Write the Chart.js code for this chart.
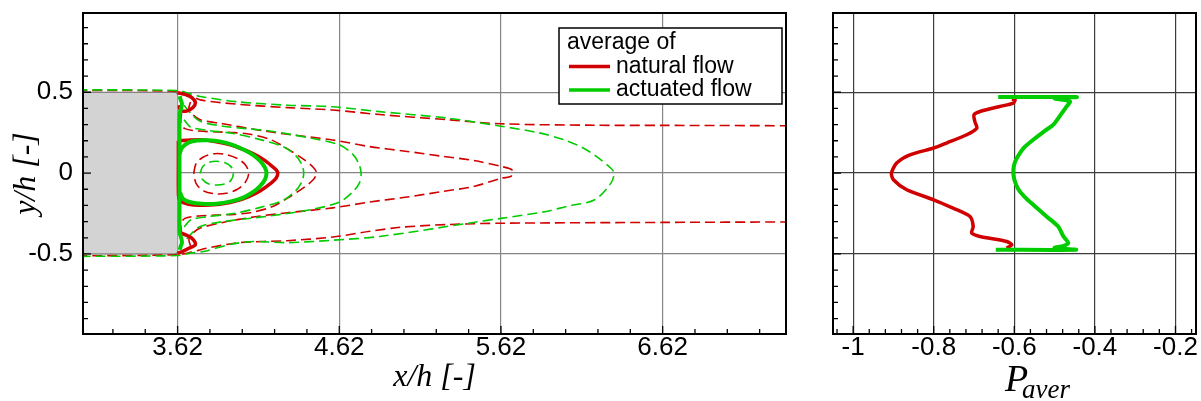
<!DOCTYPE html>
<html lang="en">
<head>
<meta charset="UTF-8">
<title>Average of natural and actuated flow</title>
<script src="https://cdn.jsdelivr.net/npm/chart.js"></script>
<style>
  body { margin: 0; background: #fff; }
  .panel { position: absolute; top: 0; }
  #left { left: 0; width: 800px; height: 401px; }
  #right { left: 800px; width: 401px; height: 401px; }
</style>
</head>
<body>
<div class="panel" id="left"><canvas id="flowChart" width="800" height="401"></canvas></div>
<div class="panel" id="right"><canvas id="pressureChart" width="401" height="401"></canvas></div>
<script>
"use strict";

// legend / labels
const legendTitle = 'average of';
const seriesLabels = ['natural flow', 'actuated flow'];

// tick values
const flowXTicks = [3.62, 4.62, 5.62, 6.62];
const flowXMinor = [3.22, 3.42, 3.82, 4.02, 4.22, 4.42, 4.82, 5.02, 5.22, 5.42, 5.82, 6.02, 6.22, 6.42, 6.82, 7.02, 7.22];
const yTicks = [-0.5, 0, 0.5];
const yMinor = [-0.9, -0.8, -0.7, -0.6, -0.4, -0.3, -0.2, -0.1, 0.1, 0.2, 0.3, 0.4, 0.6, 0.7, 0.8, 0.9];
const pXTicks = [-1, -0.8, -0.6, -0.4, -0.2];
const pXMinor = [-1.04, -0.96, -0.92, -0.88, -0.84, -0.76, -0.72, -0.68, -0.64, -0.56, -0.52, -0.48, -0.44, -0.36, -0.32, -0.28, -0.24, -0.16];

// bluff body (grey block)
const bodyTop = [[3.0, 0.5], [3.6, 0.5], [3.613, 0.497], [3.62, 0.485]];
const bodyBottom = [[3.0, -0.5], [3.6, -0.5], [3.613, -0.497], [3.62, -0.485]];

// natural flow streamlines (x/h, y/h)
const natBubble = [[3.625, 0.2], [3.7, 0.205], [3.76, 0.206], [3.85, 0.196], [3.946, 0.175], [4.03, 0.145], [4.089, 0.119], [4.15, 0.085], [4.194, 0.051], [4.23, 0.02], [4.24, 0], [4.23, -0.03], [4.2, -0.06], [4.13, -0.11], [4.06, -0.145], [3.99, -0.17], [3.9, -0.19], [3.82, -0.197], [3.72, -0.198], [3.66, -0.185], [3.63, -0.16], [3.625, -0.1], [3.625, 0.1], [3.625, 0.2]];
const natCornerTop = [[3.62, 0.497], [3.67, 0.485], [3.71, 0.465], [3.73, 0.435], [3.715, 0.405], [3.68, 0.385], [3.65, 0.383], [3.635, 0.395], [3.63, 0.42]];
const natCornerBottom = [[3.635, -0.37], [3.67, -0.382], [3.71, -0.405], [3.73, -0.443], [3.69, -0.465], [3.655, -0.482], [3.62, -0.497]];
const natCore = [[3.72, 0], [3.735, 0.06], [3.78, 0.1], [3.85, 0.12], [3.92, 0.115], [3.99, 0.09], [4.04, 0.05], [4.06, 0], [4.04, -0.055], [3.99, -0.1], [3.92, -0.125], [3.85, -0.128], [3.78, -0.11], [3.735, -0.065], [3.72, 0]];
const natLoopA = [[3.645, 0.37], [3.64, 0.31], [3.665, 0.275], [3.75, 0.26], [3.86, 0.255], [3.97, 0.25], [4.07, 0.24], [4.2, 0.205], [4.3, 0.15], [4.4, 0.085], [4.46, 0.035], [4.48, 0], [4.46, -0.04], [4.4, -0.09], [4.3, -0.155], [4.2, -0.21], [4.07, -0.245], [3.97, -0.255], [3.86, -0.26], [3.75, -0.265], [3.665, -0.28], [3.64, -0.315], [3.645, -0.37]];
const natLoopB = [[3.7, 0.44], [3.69, 0.4], [3.71, 0.365], [3.76, 0.33], [3.9, 0.305], [4.1, 0.27], [4.3, 0.24], [4.58, 0.205], [4.8, 0.165], [5.04, 0.134], [5.25, 0.105], [5.45, 0.078], [5.626, 0.04], [5.688, 0.02], [5.682, -0.021], [5.626, -0.031], [5.45, -0.083], [5.25, -0.115], [5.04, -0.148], [4.8, -0.18], [4.58, -0.215], [4.3, -0.245], [4.1, -0.27], [3.9, -0.305], [3.76, -0.34], [3.71, -0.375], [3.69, -0.41], [3.7, -0.45]];
const natOuterTop = [[3.0, 0.512], [3.62, 0.505], [3.7, 0.48], [3.76, 0.453], [4.0, 0.425], [4.3, 0.405], [4.58, 0.39], [4.87, 0.362], [5.29, 0.33], [5.62, 0.305], [6.2, 0.296], [6.62, 0.295], [7.4, 0.293]];
const natOuterBottom = [[3.0, -0.512], [3.62, -0.505], [3.7, -0.49], [3.8, -0.465], [4.0, -0.43], [4.3, -0.418], [4.58, -0.395], [4.81, -0.36], [5.0, -0.335], [5.29, -0.318], [5.62, -0.31], [6.62, -0.305], [7.4, -0.302]];

// actuated flow streamlines (x/h, y/h)
const actBubble = [[3.632, 0.12], [3.65, 0.16], [3.69, 0.19], [3.74, 0.202], [3.81, 0.203], [3.88, 0.196], [3.96, 0.175], [4.03, 0.144], [4.09, 0.11], [4.13, 0.075], [4.16, 0.035], [4.17, 0], [4.16, -0.04], [4.13, -0.08], [4.09, -0.115], [4.03, -0.15], [3.95, -0.175], [3.86, -0.19], [3.77, -0.19], [3.7, -0.18], [3.655, -0.16], [3.635, -0.12]];
const actWall = [[3.633, 0.475], [3.64, 0.45], [3.647, 0.43], [3.642, 0.4], [3.633, 0.37], [3.632, 0.2], [3.632, -0.2], [3.633, -0.37], [3.642, -0.4], [3.647, -0.43], [3.64, -0.45], [3.633, -0.475]];
const actCore = [[3.76, 0], [3.775, 0.04], [3.81, 0.065], [3.86, 0.073], [3.91, 0.065], [3.95, 0.04], [3.965, 0], [3.95, -0.045], [3.91, -0.068], [3.86, -0.074], [3.81, -0.066], [3.775, -0.04], [3.76, 0]];
const actLoopA = [[3.66, 0.33], [3.7, 0.285], [3.8, 0.265], [3.965, 0.245], [4.12, 0.21], [4.27, 0.165], [4.35, 0.11], [4.39, 0.05], [4.4, 0], [4.39, -0.05], [4.35, -0.11], [4.27, -0.17], [4.12, -0.215], [3.965, -0.25], [3.8, -0.27], [3.7, -0.29], [3.66, -0.335]];
const actLoopB = [[3.66, 0.42], [3.7, 0.37], [3.76, 0.32], [3.9, 0.29], [4.19, 0.26], [4.45, 0.215], [4.62, 0.175], [4.7, 0.12], [4.74, 0.06], [4.755, 0], [4.745, -0.06], [4.7, -0.12], [4.62, -0.18], [4.45, -0.225], [4.19, -0.265], [3.9, -0.3], [3.76, -0.33], [3.7, -0.38], [3.66, -0.43]];
const actOuter = [[3.0, 0.515], [3.62, 0.51], [3.7, 0.49], [3.76, 0.474], [4.0, 0.44], [4.3, 0.42], [4.58, 0.41], [4.87, 0.38], [5.29, 0.34], [5.62, 0.29], [5.85, 0.25], [6.01, 0.206], [6.12, 0.16], [6.21, 0.103], [6.3, 0.03], [6.32, 0], [6.3, -0.062], [6.2, -0.165], [6.03, -0.205], [5.9, -0.237], [5.62, -0.28], [5.45, -0.305], [4.87, -0.392], [4.58, -0.415], [4.3, -0.43], [4.09, -0.423], [3.95, -0.44], [3.78, -0.485], [3.7, -0.495], [3.62, -0.51], [3.0, -0.515]];

// right panel: P_aver against y/h
const natPressure = [[-0.619, -0.464], [-0.606, -0.443], [-0.619, -0.423], [-0.685, -0.392], [-0.706, -0.371], [-0.702, -0.33], [-0.71, -0.268], [-0.752, -0.217], [-0.8, -0.165], [-0.867, -0.103], [-0.9, -0.041], [-0.905, 0], [-0.892, 0.062], [-0.859, 0.113], [-0.8, 0.155], [-0.768, 0.186], [-0.718, 0.237], [-0.693, 0.278], [-0.698, 0.319], [-0.7, 0.361], [-0.685, 0.381], [-0.636, 0.412], [-0.6025, 0.433], [-0.598, 0.453], [-0.606, 0.458]];
const actPressure = [[-0.64, 0.47], [-0.445, 0.47], [-0.5, 0.462], [-0.462, 0.443], [-0.47, 0.412], [-0.482, 0.371], [-0.503, 0.3], [-0.525, 0.26], [-0.553, 0.206], [-0.575, 0.16], [-0.586, 0.124], [-0.598, 0.07], [-0.6025, 0.02], [-0.6, -0.04], [-0.59, -0.1], [-0.575, -0.145], [-0.553, -0.196], [-0.52, -0.268], [-0.491, -0.33], [-0.478, -0.392], [-0.466, -0.433], [-0.478, -0.45], [-0.5, -0.462], [-0.447, -0.474], [-0.646, -0.474]];

const RED = '#d10000';
const GREEN = '#00cc00';
const seriesColors = [RED, GREEN];

const pts = arr => arr.map(([x, y]) => ({ x, y }));

function streamline(data, color, dashed, order) {
    return {
        data: pts(data),
        showLine: true,
        borderColor: color,
        borderWidth: dashed ? 1.6 : (color === GREEN ? 4 : 3.5),
        borderDash: dashed ? [10, 5] : [],
        pointRadius: 0,
        tension: 0.3,
        fill: false,
        order
    };
}

// minor ticks (inside) and the frame round the plot area
const frameTicks = {
    id: 'frameTicks',
    afterDatasetsDraw(chart, args, o) {
        const { ctx, chartArea: a, scales: { x, y } } = chart;
        ctx.save();
        ctx.strokeStyle = '#000';
        ctx.lineWidth = 1.3;
        ctx.beginPath();
        o.xMinor.forEach(v => { const p = x.getPixelForValue(v); ctx.moveTo(p, a.bottom); ctx.lineTo(p, a.bottom - o.minorLen); });
        o.xMajor.forEach(v => { const p = x.getPixelForValue(v); ctx.moveTo(p, a.bottom); ctx.lineTo(p, a.bottom - o.majorLen); });
        o.yMinor.forEach(v => { const p = y.getPixelForValue(v); ctx.moveTo(a.left, p); ctx.lineTo(a.left + o.minorLen, p); });
        o.yMajor.forEach(v => { const p = y.getPixelForValue(v); ctx.moveTo(a.left, p); ctx.lineTo(a.left + o.majorLen, p); });
        ctx.stroke();
        ctx.lineWidth = 2;
        ctx.strokeRect(a.left, a.top, a.right - a.left, a.bottom - a.top);
        ctx.restore();
    }
};

// boxed legend with a heading line
const boxLegend = {
    id: 'boxLegend',
    afterDraw(chart, args, o) {
        if (!o.show) return;
        const { ctx } = chart;
        ctx.save();
        ctx.fillStyle = '#fff';
        ctx.fillRect(o.left, o.top, o.width, o.height);
        ctx.strokeStyle = '#000';
        ctx.lineWidth = 1.5;
        ctx.strokeRect(o.left, o.top, o.width, o.height);
        ctx.font = '23px "Liberation Sans", Arial, sans-serif';
        ctx.fillStyle = '#000';
        ctx.textBaseline = 'middle';
        ctx.fillText(legendTitle, o.left + 8, o.top + 15);
        seriesLabels.forEach((label, i) => {
            const yy = o.top + 15 + (i + 1) * 23.5;
            ctx.strokeStyle = seriesColors[i];
            ctx.lineWidth = 3.5;
            ctx.beginPath();
            ctx.moveTo(o.left + 10, yy);
            ctx.lineTo(o.left + 51, yy);
            ctx.stroke();
            ctx.fillText(label, o.left + 57, yy);
        });
        ctx.restore();
    }
};

// "P" with subscript "aver" as the x title of the right panel
const subTitle = {
    id: 'subTitle',
    afterDraw(chart, args, o) {
        if (!o.show) return;
        const { ctx } = chart;
        ctx.save();
        ctx.fillStyle = '#000';
        ctx.textBaseline = 'alphabetic';
        ctx.font = 'italic 38px "Liberation Serif", "Times New Roman", serif';
        ctx.fillText(o.main, o.x, o.y);
        ctx.font = 'italic 27px "Liberation Serif", "Times New Roman", serif';
        ctx.fillText(o.sub, o.x + 17, o.y + 7);
        ctx.restore();
    }
};

Chart.register(frameTicks, boxLegend, subTitle);

const tickFont = { family: '"Liberation Sans", Arial, sans-serif', size: 26, lineHeight: 1.05 };
const titleFont = { family: '"Liberation Serif", "Times New Roman", serif', size: 32, style: 'italic' };

// keep label overflow from shrinking the plot area
const noEdgePadding = s => { s.paddingTop = 0; s.paddingBottom = 0; s.paddingLeft = 0; s.paddingRight = 0; };

const flowDatasets = [
    { data: pts(bodyTop), showLine: true, borderColor: '#6a6a6a', borderWidth: 1, backgroundColor: '#d3d3d3', fill: '+1', pointRadius: 0, order: 100 },
    { data: pts(bodyBottom), showLine: true, borderColor: '#6a6a6a', borderWidth: 1, fill: false, pointRadius: 0, order: 99 },
    streamline(natOuterTop, RED, true, 50),
    streamline(natOuterBottom, RED, true, 50),
    streamline(natLoopB, RED, true, 50),
    streamline(natLoopA, RED, true, 50),
    streamline(natCore, RED, true, 50),
    streamline(actOuter, GREEN, true, 40),
    streamline(actLoopB, GREEN, true, 40),
    streamline(actLoopA, GREEN, true, 40),
    streamline(actCore, GREEN, true, 40),
    streamline(natBubble, RED, false, 20),
    streamline(natCornerTop, RED, false, 20),
    streamline(natCornerBottom, RED, false, 20),
    streamline(actBubble, GREEN, false, 10),
    streamline(actWall, GREEN, false, 10)
];

new Chart(document.getElementById('flowChart'), {
    type: 'scatter',
    data: { datasets: flowDatasets },
    options: {
        responsive: false,
        animation: false,
        devicePixelRatio: 1,
        layout: { padding: { top: 13, right: 14, left: 0, bottom: 0 } },
        plugins: {
            legend: { display: false },
            tooltip: { enabled: false },
            frameTicks: { xMinor: flowXMinor, xMajor: flowXTicks, yMinor: yMinor, yMajor: yTicks, minorLen: 5, majorLen: 8 },
            boxLegend: { show: true, left: 559, top: 28, width: 223, height: 76 },
            subTitle: { show: false }
        },
        scales: {
            x: {
                type: 'linear', min: 3.035, max: 7.383,
                afterFit: s => { s.height = 67; noEdgePadding(s); },
                afterBuildTicks: s => { s.ticks = flowXTicks.map(v => ({ value: v })); },
                border: { display: false },
                grid: { color: '#858585', lineWidth: 1.2, drawTicks: false },
                ticks: { font: tickFont, color: '#000', padding: 0, autoSkip: false, maxRotation: 0, callback: v => v.toFixed(2) },
                title: { display: true, text: 'x/h [-]', font: titleFont, color: '#000', padding: { top: 0, bottom: 4 } }
            },
            y: {
                type: 'linear', min: -0.995, max: 0.99,
                afterFit: s => { s.width = 83; noEdgePadding(s); },
                afterBuildTicks: s => { s.ticks = yTicks.map(v => ({ value: v })); },
                border: { display: false },
                grid: { color: '#858585', lineWidth: 1.2, drawTicks: false },
                ticks: { font: tickFont, color: '#000', padding: 10, autoSkip: false, callback: v => String(v) },
                title: { display: true, text: 'y/h [-]', font: titleFont, color: '#000', padding: { top: 7, bottom: 0 } }
            }
        }
    }
});

new Chart(document.getElementById('pressureChart'), {
    type: 'scatter',
    data: {
        datasets: [
            { label: seriesLabels[1], data: pts(actPressure), showLine: true, borderColor: GREEN, borderWidth: 4, pointRadius: 0, tension: 0.25, order: 1 },
            { label: seriesLabels[0], data: pts(natPressure), showLine: true, borderColor: RED, borderWidth: 3.5, pointRadius: 0, tension: 0.25, order: 2 }
        ]
    },
    options: {
        responsive: false,
        animation: false,
        devicePixelRatio: 1,
        layout: { padding: { top: 13, right: 5, left: 0, bottom: 0 } },
        plugins: {
            legend: { display: false },
            tooltip: { enabled: false },
            frameTicks: { xMinor: pXMinor, xMajor: pXTicks, yMinor: yMinor, yMajor: yTicks, minorLen: 5, majorLen: 8 },
            boxLegend: { show: false },
            subTitle: { show: true, main: 'P', sub: 'aver', x: 205, y: 391 }
        },
        scales: {
            x: {
                type: 'linear', min: -1.05, max: -0.149,
                afterFit: s => { s.height = 67; noEdgePadding(s); },
                afterBuildTicks: s => { s.ticks = pXTicks.map(v => ({ value: v })); },
                border: { display: false },
                grid: { color: '#3c3c3c', lineWidth: 1.2, drawTicks: false },
                ticks: { font: tickFont, color: '#000', padding: 0, autoSkip: false, maxRotation: 0, callback: v => String(v) }
            },
            y: {
                type: 'linear', min: -0.995, max: 0.99,
                afterFit: s => { s.width = 33; noEdgePadding(s); },
                afterBuildTicks: s => { s.ticks = yTicks.map(v => ({ value: v })); },
                border: { display: false },
                grid: { color: '#3c3c3c', lineWidth: 1.2, drawTicks: false },
                ticks: { display: false }
            }
        }
    }
});
</script>
</body>
</html>
